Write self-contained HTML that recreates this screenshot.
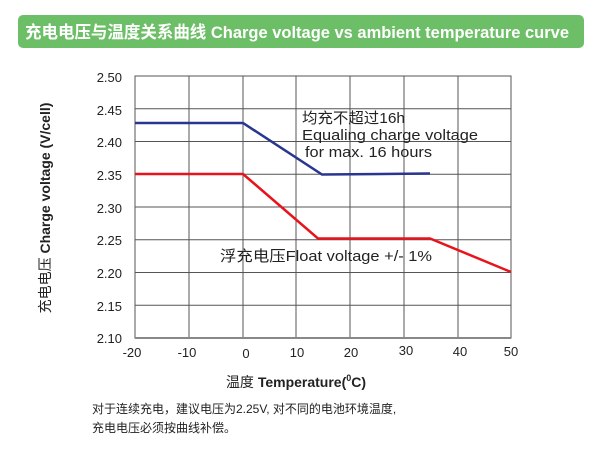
<!DOCTYPE html><html><head><meta charset="utf-8"><style>
body{margin:0;background:#fff;width:600px;height:451px;overflow:hidden;font-family:"Liberation Sans","Noto Sans CJK SC",sans-serif}
</style></head><body>
<svg width="600" height="451" xmlns="http://www.w3.org/2000/svg" style="position:absolute;left:0;top:0;font-family:'Liberation Sans','Noto Sans CJK SC',sans-serif">
<rect x="18" y="15" width="566" height="33" rx="5" fill="#6dbf67"/>
<text x="25" y="38" fill="#fff" font-size="17" font-weight="bold" textLength="544" lengthAdjust="spacingAndGlyphs">充电电压与温度关系曲线 Charge voltage vs ambient temperature curve</text>
<g stroke="#555" stroke-width="1" fill="none">
<rect x="135" y="76" width="376" height="262"/>
<path d="M189 76V338M243 76V338M296 76V338M350 76V338M404 76V338M458 76V338"/>
<path d="M135 108.75H511M135 141.5H511M135 174.25H511M135 207H511M135 239.75H511M135 272.5H511M135 305.25H511"/>
</g>
<path d="M135 338H511" stroke="#888" stroke-width="2"/>
<polyline points="135,123 243,123 322,174.5 430,173.5" fill="none" stroke="#2a3590" stroke-width="2.5"/>
<polyline points="135,174 243,174 318,238.5 430,238.5 511,272" fill="none" stroke="#e8141b" stroke-width="2.5"/>
<g font-size="13" fill="#222" text-anchor="end">
<text x="122" y="82">2.50</text><text x="122" y="115">2.45</text><text x="122" y="147">2.40</text><text x="122" y="180">2.35</text><text x="122" y="213">2.30</text><text x="122" y="245">2.25</text><text x="122" y="278">2.20</text><text x="122" y="311">2.15</text><text x="122" y="343">2.10</text>
</g>
<g font-size="13" fill="#222" text-anchor="middle">
<text x="132" y="357">-20</text><text x="187" y="357">-10</text><text x="246" y="358">0</text><text x="297" y="357">10</text><text x="351" y="357">20</text><text x="406" y="355">30</text><text x="460" y="356">40</text><text x="511" y="356">50</text>
</g>
<g font-size="15" fill="#222" lengthAdjust="spacingAndGlyphs">
<text x="302" y="123" textLength="103" lengthAdjust="spacingAndGlyphs">均充不超过16h</text>
<text x="302" y="140" textLength="176" lengthAdjust="spacingAndGlyphs">Equaling charge voltage</text>
<text x="305" y="157" textLength="127" lengthAdjust="spacingAndGlyphs">for max. 16 hours</text>
<text x="220" y="261" textLength="212" lengthAdjust="spacingAndGlyphs">浮充电压Float voltage +/- 1%</text>
</g>
<text transform="translate(50,208) rotate(-90)" text-anchor="middle" font-size="14" font-weight="bold" fill="#222"><tspan font-weight="normal">充电电压</tspan> Charge voltage (V/cell)</text>
<text x="296" y="387" text-anchor="middle" font-size="14" fill="#222">温度 <tspan font-weight="bold">Temperature(<tspan font-size="9" dy="-6">0</tspan><tspan dy="6">C)</tspan></tspan></text>
<g font-size="12" fill="#222">
<text x="92" y="413">对于连续充电，建议电压为2.25V, 对不同的电池环境温度,</text>
<text x="92" y="432">充电电压必须按曲线补偿。</text>
</g>
</svg>
</body></html>
